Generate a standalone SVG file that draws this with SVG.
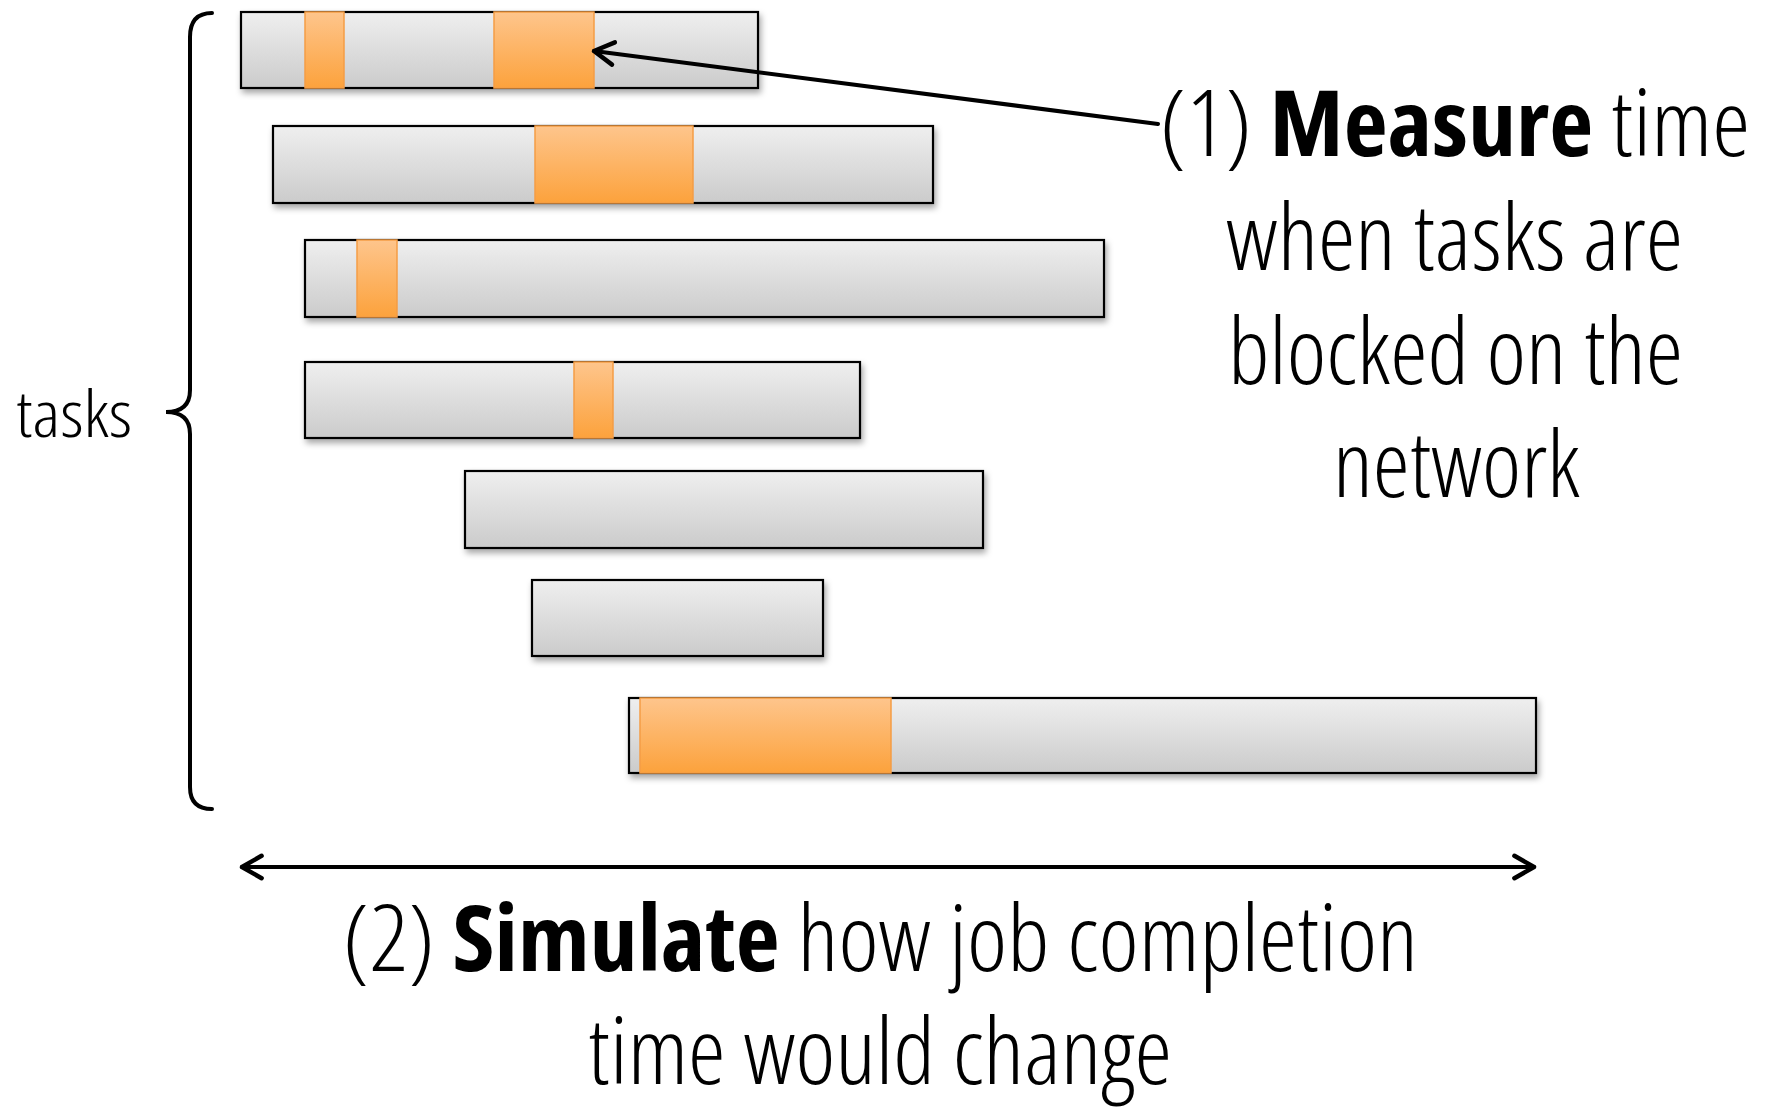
<svg xmlns="http://www.w3.org/2000/svg" width="1767" height="1109" viewBox="0 0 1767 1109">
  <defs>
    <linearGradient id="barFill" x1="0" y1="0" x2="0" y2="1">
      <stop offset="0" stop-color="#efefef"/>
      <stop offset="1" stop-color="#cbcbcb"/>
    </linearGradient>
    <linearGradient id="blockFill" x1="0" y1="0" x2="0" y2="1">
      <stop offset="0" stop-color="#fec58c"/>
      <stop offset="1" stop-color="#fca23c"/>
    </linearGradient>
    <filter id="shadow" x="-5%" y="-20%" width="110%" height="150%">
      <feDropShadow dx="2" dy="4" stdDeviation="3" flood-color="#000" flood-opacity="0.35"/>
    </filter>
    <marker id="chevron" viewBox="0 0 20 20" refX="17" refY="10" markerWidth="7" markerHeight="7" orient="auto-start-reverse" markerUnits="strokeWidth">
      <path d="M3,2 L17,10 L3,18" fill="none" stroke="#000" stroke-width="3.2" stroke-linecap="round" stroke-linejoin="round"/>
    </marker>
  </defs>
  <style>
    .bar { fill: url(#barFill); stroke: #000; stroke-width: 2.2; filter: url(#shadow); }
    .block { fill: url(#blockFill); stroke: #f59d45; stroke-width: 1.5; }
    .txt { font-family: "Open Sans", "Liberation Sans", sans-serif; font-stretch: 75%; font-weight: 300; fill: #000; }
    .bold { font-weight: 700; }
    .line { fill: none; stroke: #000; stroke-width: 4; stroke-linecap: round; }
  </style>

  <rect width="1767" height="1109" fill="#fff"/>

  <!-- task bars with network-blocked segments -->
  <g id="task1">
    <rect class="bar" x="241" y="12" width="517" height="76"/>
    <rect class="block" x="305" y="12" width="39" height="76"/>
    <rect class="block" x="494" y="12" width="100" height="76"/>
  </g>
  <g id="task2">
    <rect class="bar" x="273" y="126" width="660" height="77"/>
    <rect class="block" x="535" y="126" width="158" height="77"/>
  </g>
  <g id="task3">
    <rect class="bar" x="305" y="240" width="799" height="77"/>
    <rect class="block" x="357" y="240" width="40" height="77"/>
  </g>
  <g id="task4">
    <rect class="bar" x="305" y="362" width="555" height="76"/>
    <rect class="block" x="574" y="362" width="39" height="76"/>
  </g>
  <g id="task5">
    <rect class="bar" x="465" y="471" width="518" height="77"/>
  </g>
  <g id="task6">
    <rect class="bar" x="532" y="580" width="291" height="76"/>
  </g>
  <g id="task7">
    <rect class="bar" x="629" y="698" width="907" height="75"/>
    <rect class="block" x="640" y="698" width="251" height="75"/>
  </g>

  <!-- brace grouping the tasks -->
  <g id="brace">
    <path class="line" stroke-width="4.5" d="M212,13 Q190,13 190,37 L190,390 Q190,412 166,412 Q190,412 190,434 L190,787 Q190,809 212,809"/>
    <text class="txt" x="16" y="437" font-size="64" textLength="116" lengthAdjust="spacingAndGlyphs">tasks</text>
  </g>

  <!-- connectors -->
  <g id="connectors">
    <line class="line" x1="1158" y1="124" x2="594" y2="51" stroke-width="4" marker-end="url(#chevron)"/>
    <line class="line" x1="242" y1="867" x2="1534" y2="867" marker-start="url(#chevron)" marker-end="url(#chevron)"/>
  </g>

  <!-- step (1) label -->
  <g id="measure-label">
    <text class="txt" x="1160" y="156" font-size="92" textLength="590" lengthAdjust="spacingAndGlyphs">(1) <tspan class="bold">Measure</tspan> time</text>
    <text class="txt" x="1226" y="270" font-size="92" textLength="457" lengthAdjust="spacingAndGlyphs">when tasks are</text>
    <text class="txt" x="1228" y="384" font-size="92" textLength="455" lengthAdjust="spacingAndGlyphs">blocked on the</text>
    <text class="txt" x="1333" y="497" font-size="92" textLength="247" lengthAdjust="spacingAndGlyphs">network</text>
  </g>

  <!-- step (2) label -->
  <g id="simulate-label">
    <text class="txt" x="343" y="971" font-size="92" textLength="1075" lengthAdjust="spacingAndGlyphs">(2) <tspan class="bold">Simulate</tspan> how job completion</text>
    <text class="txt" x="588" y="1084" font-size="92" textLength="584" lengthAdjust="spacingAndGlyphs">time would change</text>
  </g>
</svg>
